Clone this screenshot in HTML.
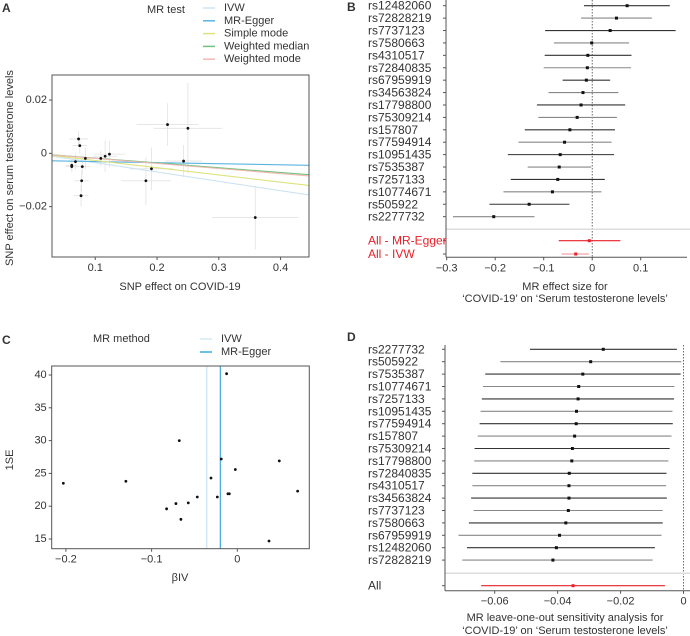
<!DOCTYPE html>
<html><head><meta charset="utf-8">
<style>
html,body{margin:0;padding:0;background:#fff;}
svg{display:block;font-family:"Liberation Sans",sans-serif;}
text{fill:#333;}
</style></head>
<body>
<svg id="fig" width="690" height="636" viewBox="0 0 690 636" xmlns="http://www.w3.org/2000/svg"></svg>
<script>
// ---------- Panel A data ----------
const aX = [0.073,0.075,0.084,0.068,0.062,0.062,0.079,0.078,0.077,0.109,0.116,0.123,0.217,0.250,0.243,0.191,0.182,0.359];
const aY = [0.0054,0.0029,-0.0019,-0.0031,-0.0045,-0.005,-0.005,-0.0103,-0.0159,-0.0019,-0.0011,-0.0003,0.0108,0.0094,-0.0029,-0.0058,-0.0103,-0.0241];
const aXerr = [0.015,0.012,0.01,0.012,0.01,0.01,0.012,0.012,0.012,0.014,0.02,0.025,0.05,0.055,0.03,0.035,0.04,0.07];
const aYerr = [0.003,0.003,0.004,0.003,0.002,0.002,0.003,0.004,0.004,0.003,0.006,0.005,0.008,0.017,0.006,0.008,0.009,0.012];
const aMethods = ["IVW","MR-Egger","Simple mode","Weighted median","Weighted mode"];
const aIntercepts = [0,-0.0027,0,0,0];
const aSlopes = [-0.035,-0.004,-0.027,-0.018,-0.019];
const aColors = ["#cde3f2","#5ab4e0","#dde37c","#72c27c","#f2b8b4"];
const aXTicks = [0.1,0.2,0.3,0.4];
const aYTicks = [0.02,0,-0.02];
const aYTickLabels = ["0.02","0","\u22120.02"];

// ---------- Panel B data ----------
const bSnps = ["rs12482060","rs72828219","rs7737123","rs7580663","rs4310517","rs72840835","rs67959919","rs34563824","rs17798800","rs75309214","rs157807","rs77594914","rs10951435","rs7535387","rs7257133","rs10774671","rs505922","rs2277732"];
const bEst = [0.072,0.05,0.037,-0.001,-0.009,-0.01,-0.012,-0.019,-0.023,-0.031,-0.046,-0.057,-0.066,-0.068,-0.071,-0.082,-0.13,-0.203];
const bLo = [-0.017,-0.023,-0.097,-0.079,-0.098,-0.1,-0.061,-0.09,-0.114,-0.111,-0.139,-0.152,-0.174,-0.133,-0.168,-0.183,-0.212,-0.287];
const bHi = [0.16,0.123,0.172,0.076,0.081,0.08,0.037,0.054,0.068,0.051,0.047,0.04,0.045,-0.002,0.026,0.019,-0.047,-0.119];
const bSummaryNames = ["All - MR-Egger","All - IVW"];
const bSummaryEst = [-0.006,-0.034];
const bSummaryLo = [-0.069,-0.063];
const bSummaryHi = [0.058,-0.007];
const bXTicks = [-0.3,-0.2,-0.1,0,0.1];
const bXTickLabels = ["\u22120.3","\u22120.2","\u22120.1","0","0.1"];

// ---------- Panel C data ----------
const cX = [-0.203,-0.130,-0.0825,-0.0716,-0.0677,-0.0658,-0.0572,-0.0467,-0.0307,-0.0233,-0.0187,-0.0125,-0.0109,-0.0093,-0.0023,0.037,0.049,0.0704];
const cY = [23.5,23.8,19.6,20.4,30.0,18.0,20.5,21.4,24.3,21.4,27.2,40.2,21.9,21.9,25.6,14.7,26.9,22.3];
const cMethods = ["IVW","MR-Egger"];
const cMethodValues = [-0.0357,-0.0198];
const cColors = ["#d6e8f5","#3fa9dc"];
const cXTicks = [-0.2,-0.1,0];
const cXTickLabels = ["\u22120.2","\u22120.1","0"];
const cYTicks = [15,20,25,30,35,40];

// ---------- Panel D data ----------
const dSnps = ["rs2277732","rs505922","rs7535387","rs10774671","rs7257133","rs10951435","rs77594914","rs157807","rs75309214","rs17798800","rs72840835","rs4310517","rs34563824","rs7737123","rs7580663","rs67959919","rs12482060","rs72828219"];
const dEst = [-0.0255,-0.0295,-0.032,-0.0333,-0.0335,-0.034,-0.0341,-0.0346,-0.0353,-0.0355,-0.0363,-0.0364,-0.0364,-0.0366,-0.0374,-0.0394,-0.0404,-0.0415];
const dLo = [-0.0488,-0.0582,-0.063,-0.0637,-0.0641,-0.0645,-0.0648,-0.0654,-0.0664,-0.0665,-0.0671,-0.0671,-0.0675,-0.0667,-0.0682,-0.0715,-0.0688,-0.0703];
const dHi = [-0.0021,-0.0007,-0.0009,-0.0029,-0.003,-0.0035,-0.0034,-0.0038,-0.0044,-0.0048,-0.0054,-0.0055,-0.0053,-0.0066,-0.0066,-0.007,-0.0091,-0.0098];
const dAllEst = [-0.0351];
const dAllLo = [-0.0643];
const dAllHi = [-0.0059];
const dXTicks = [-0.06,-0.04,-0.02,0];
const dXTickLabels = ["\u22120.06","\u22120.04","\u22120.02","0"];

const NS = "http://www.w3.org/2000/svg";
const svg = document.getElementById("fig");
function mk(tag, attrs, parent){
  const e = document.createElementNS(NS, tag);
  for (const k in attrs) e.setAttribute(k, attrs[k]);
  (parent||svg).appendChild(e);
  return e;
}
function txt(s, x, y, size, anchor, parent, extra){
  const t = mk("text", Object.assign({x:x, y:y, "font-size":size, "text-anchor":anchor||"start", "dominant-baseline":"central"}, extra||{}), parent);
  t.textContent = s;
  return t;
}

// ================= Panel A =================
(function(){
  const g = mk("g", {});
  
  
  const L=52,R=309,T=75,B=257;
  const x0=0.03,x1=0.446,y0=-0.0389,y1=0.0294;
  const sx = v => L + (v-x0)/(x1-x0)*(R-L);
  const sy = v => B - (v-y0)/(y1-y0)*(B-T);
  const lab = txt("A", 2, 8, 12, "start", g, {"font-weight":"bold"});
  
  
  const clip = mk("clipPath", {id:"clipA"}, g);
  mk("rect", {x:L, y:T, width:R-L, height:B-T}, clip);
  const pg = mk("g", {"clip-path":"url(#clipA)"}, g);
  for (let i=0;i<aX.length;i++){
    const eb = mk("g", {}, pg);
    
    
    mk("line", {x1:sx(aX[i]-aXerr[i]), x2:sx(aX[i]+aXerr[i]), y1:sy(aY[i]), y2:sy(aY[i]), stroke:"#e2e2e2", "stroke-width":0.8}, eb);
    mk("line", {x1:sx(aX[i]), x2:sx(aX[i]), y1:sy(aY[i]-aYerr[i]), y2:sy(aY[i]+aYerr[i]), stroke:"#e2e2e2", "stroke-width":0.8}, eb);
  }
  for (let m=0;m<aMethods.length;m++){
    const ln = mk("line", {x1:sx(x0), y1:sy(aIntercepts[m]+aSlopes[m]*x0), x2:sx(x1), y2:sy(aIntercepts[m]+aSlopes[m]*x1), stroke:aColors[m], "stroke-width":1.1}, pg);
    
    
  }
  for (let i=0;i<aX.length;i++){
    const p = mk("circle", {cx:sx(aX[i]), cy:sy(aY[i]), r:1.4, fill:"#111"}, pg);
    
    
  }
  const frame = mk("rect", {x:L, y:T, width:R-L, height:B-T, fill:"none", stroke:"#555", "stroke-width":1}, g);
  
  
  aXTicks.forEach(v=>{
    mk("line", {x1:sx(v), x2:sx(v), y1:B, y2:B+3, stroke:"#555"}, g);
    const t = txt(String(v), sx(v), B+11, 11, "middle", g);
    
    
  });
  aYTicks.forEach((v,i)=>{
    mk("line", {x1:L-3, x2:L, y1:sy(v), y2:sy(v), stroke:"#555"}, g);
    const t = txt(aYTickLabels[i], L-5, sy(v), 11, "end", g);
    
    
  });
  const xt = txt("SNP effect on COVID-19", 180, 287, 11, "middle", g);
  
  
  const yt = txt("SNP effect on serum testosterone levels", 0, 0, 11, "middle", g, {transform:"translate(10,168) rotate(-90)"});
  
  
  const lt = txt("MR test", 147, 10, 11, "start", g);
  
  
  aMethods.forEach((m,i)=>{
    const y = 8 + i*12.8;
    const le = mk("g", {}, g);
    
    
    mk("line", {x1:203, x2:215, y1:y, y2:y, stroke:aColors[i], "stroke-width":1.5}, le);
    txt(m, 224, y, 11, "start", le);
  });
})();

// ================= Forest helper =================
function forest(opts){
  const g = mk("g", {});
  
  
  const sx = v => opts.px0 + (v-opts.v0)/(opts.v1-opts.v0)*(opts.px1-opts.px0);
  const lab = txt(opts.letter, opts.letterX, opts.letterY, 12, "start", g, {"font-weight":"bold"});
  
  
  const z = mk("line", {x1:sx(0), x2:sx(0), y1:opts.top, y2:opts.axisY, stroke:"#444", "stroke-width":0.8, "stroke-dasharray":"1.5,1.5"}, g);
  
  
  const sp = mk("line", {x1:opts.axisX, x2:690, y1:opts.sepY, y2:opts.sepY, stroke:"#ddd", "stroke-width":1.5}, g);
  
  
  mk("line", {x1:opts.axisX, x2:opts.axisX, y1:opts.top, y2:opts.axisY, stroke:"#555"}, g);
  mk("line", {x1:opts.axisX, x2:opts.axisRight, y1:opts.axisY, y2:opts.axisY, stroke:"#555"}, g);
  opts.ticks.forEach((v,i)=>{
    mk("line", {x1:sx(v), x2:sx(v), y1:opts.axisY, y2:opts.axisY+3, stroke:"#555"}, g);
    const t = txt(opts.tickLabels[i], sx(v), opts.axisY+11, 11, "middle", g);
    
    
  });
  opts.rows.forEach((r,i)=>{
    const y = r.y;
    mk("line", {x1:opts.axisX-3, x2:opts.axisX, y1:y, y2:y, stroke:"#555"}, g);
    const t = txt(r.name, opts.labelX, y, 12, "start", g, r.red ? {style:"fill:#e8202a"} : {});
    
    
    const col = (r.red || r.allRow) ? (r.light ? "#f08a8f" : "#e8202a") : (i%2===0 ? "#333" : "#888");
    const ci = mk("line", {x1:sx(r.lo), x2:sx(r.hi), y1:y, y2:y, stroke:col, "stroke-width":1.1}, g);
    
    
    const p = mk("rect", {x:sx(r.est)-1.5, y:y-1.5, width:3, height:3, fill:(r.red||r.allRow) ? "#e8202a" : "#111"}, g);
    
    
  });
  const t1 = txt(opts.title1, opts.titleX, opts.titleY1, 11, "middle", g);
  
  
  const t2 = txt(opts.title2, opts.titleX, opts.titleY2, 11, "middle", g);
  
  
}

// ================= Panel B =================
(function(){
  const rows = bSnps.map((n,i)=>({name:n, est:bEst[i], lo:bLo[i], hi:bHi[i], y:5.7+i*12.41}));
  bSummaryNames.forEach((n,i)=>rows.push({name:n, est:bSummaryEst[i], lo:bSummaryLo[i], hi:bSummaryHi[i], y:[240.7,254][i], red:true, light:i===1}));
  forest({name:"panel-b-forest", letter:"B", letterX:347, letterY:7, px0:446.7, px1:640.7, v0:-0.3, v1:0.1,
    top:0, axisY:257.3, axisX:446, axisRight:687, sepY:229.3, labelX:368, ticks:bXTicks, tickLabels:bXTickLabels,
    rows:rows, title1:"MR effect size for", title2:"\u2018COVID-19\u2019 on \u2018Serum testosterone levels\u2019", titleX:565, titleY1:287, titleY2:299});
})();

// ================= Panel C =================
(function(){
  const g = mk("g", {});
  
  
  const L=51.7,R=309.3,T=366,B=548.7;
  const sx = v => 237.3 + v*857;
  const sy = v => 539 - (v-15)*6.56;
  const lab = txt("C", 2, 340, 12, "start", g, {"font-weight":"bold"});
  
  
  cMethods.forEach((m,i)=>{
    const l = mk("line", {x1:sx(cMethodValues[i]), x2:sx(cMethodValues[i]), y1:T, y2:B, stroke:cColors[i], "stroke-width":i===0?1.6:1.2}, g);
    
    
  });
  for (let i=0;i<cX.length;i++){
    const p = mk("circle", {cx:sx(cX[i]), cy:sy(cY[i]), r:1.4, fill:"#111"}, g);
    
    
  }
  const frame = mk("rect", {x:L, y:T, width:R-L, height:B-T, fill:"none", stroke:"#555"}, g);
  
  
  cXTicks.forEach((v,i)=>{
    mk("line", {x1:sx(v), x2:sx(v), y1:B, y2:B+3, stroke:"#555"}, g);
    const t = txt(cXTickLabels[i], sx(v), B+11, 11, "middle", g);
    
    
  });
  cYTicks.forEach(v=>{
    mk("line", {x1:L-3, x2:L, y1:sy(v), y2:sy(v), stroke:"#555"}, g);
    const t = txt(String(v), L-5, sy(v), 11, "end", g);
    
    
  });
  const xt = txt("\u03b2IV", 180, 578, 11, "middle", g);
  
  
  const yt = txt("1SE", 0, 0, 11, "middle", g, {transform:"translate(10,460) rotate(-90)"});
  
  
  const lt = txt("MR method", 93, 339, 11, "start", g);
  
  
  cMethods.forEach((m,i)=>{
    const y = 339 + i*13;
    const le = mk("g", {}, g);
    
    
    mk("line", {x1:200, x2:212, y1:y, y2:y, stroke:cColors[i], "stroke-width":1.5}, le);
    txt(m, 221, y, 11, "start", le);
  });
})();

// ================= Panel D =================
(function(){
  const rows = dSnps.map((n,i)=>({name:n, est:dEst[i], lo:dLo[i], hi:dHi[i], y:349.3+i*12.4}));
  rows.push({name:"All", est:dAllEst[0], lo:dAllLo[0], hi:dAllHi[0], y:585.7, allRow:true});
  forest({name:"panel-d-leave-one-out", letter:"D", letterX:347, letterY:337, px0:494.7, px1:683.5, v0:-0.06, v1:0,
    top:345, axisY:590.7, axisX:445, axisRight:690, sepY:573.3, labelX:368, ticks:dXTicks, tickLabels:dXTickLabels,
    rows:rows, title1:"MR leave-one-out sensitivity analysis for", title2:"\u2018COVID-19\u2019 on \u2018Serum testosterone levels\u2019", titleX:565, titleY1:618, titleY2:631});
})();
</script>
</body></html>
